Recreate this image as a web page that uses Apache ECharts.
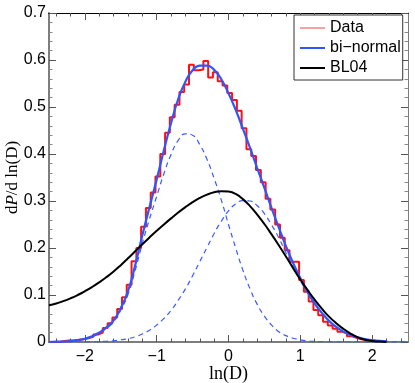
<!DOCTYPE html>
<html>
<head>
<meta charset="utf-8">
<script src="https://cdn.jsdelivr.net/npm/echarts@6/dist/echarts.min.js"></script>
<style>
  html, body { margin: 0; padding: 0; background: #fff; }
  #chart { width: 415px; height: 383px; }
</style>
</head>
<body>
<div id="chart"></div>
<script>
// x sample points for the smooth curves
var curveX = [-2.5, -2.4, -2.3, -2.2, -2.1, -2.0, -1.9, -1.8, -1.7, -1.6, -1.5, -1.4, -1.3, -1.2, -1.1,
    -1.0, -0.9, -0.8, -0.7, -0.6, -0.5, -0.4, -0.3, -0.2, -0.1, 0.0, 0.1, 0.2, 0.3, 0.4, 0.5,
    0.6, 0.7, 0.8, 0.9, 1.0, 1.1, 1.2, 1.3, 1.4, 1.5, 1.6, 1.7, 1.8, 1.9, 2.0, 2.1, 2.2, 2.3, 2.4, 2.5];

// bi-normal fit (solid blue)
var biNormal = [0.000, 0.001, 0.001, 0.002, 0.004, 0.007, 0.012, 0.020, 0.031, 0.046, 0.072, 0.108, 0.163, 0.227, 0.287,
    0.346, 0.408, 0.466, 0.517, 0.554, 0.578, 0.588, 0.588, 0.579, 0.559, 0.529, 0.494, 0.454, 0.413, 0.370, 0.328,
    0.285, 0.244, 0.204, 0.168, 0.136, 0.107, 0.082, 0.062, 0.045, 0.032, 0.022, 0.015, 0.010, 0.006, 0.004, 0.0025, 0.0015, null, null, null];

// the two gaussian components (dashed blue)
var comp1 = [0.000, 0.001, 0.001, 0.002, 0.004, 0.007, 0.011, 0.019, 0.029, 0.043, 0.068, 0.101, 0.152, 0.210, 0.262,
    0.310, 0.358, 0.399, 0.429, 0.443, 0.440, 0.420, 0.389, 0.348, 0.302, 0.250, 0.200, 0.153, 0.113, 0.080, 0.055,
    0.036, 0.022, 0.0135, 0.008, 0.0045, 0.0025, 0.0013, 0.0007, 0.0004, 0.0002, 0.0001, 0, 0, 0, 0, 0, 0, 0, 0, 0];
var comp2 = [0.000, 0.000, 0.000, 0.0001, 0.0002, 0.0003, 0.0005, 0.0009, 0.0016, 0.0027, 0.0045, 0.0072, 0.0112, 0.017, 0.025,
    0.036, 0.050, 0.067, 0.089, 0.113, 0.141, 0.171, 0.201, 0.231, 0.257, 0.279, 0.294, 0.301, 0.300, 0.290, 0.273,
    0.249, 0.222, 0.190, 0.160, 0.131, 0.104, 0.081, 0.061, 0.045, 0.032, 0.022, 0.015, 0.010, 0.006, 0.004, 0.0025, 0.0015, 0.001, 0.0005, 0.0003];

// BL04 model (black)
var bl04 = [0.078, 0.082, 0.087, 0.093, 0.100, 0.108, 0.117, 0.127, 0.138, 0.150, 0.1635, 0.178, 0.193, 0.208, 0.2225,
    0.2365, 0.250, 0.263, 0.2755, 0.287, 0.2975, 0.3065, 0.3135, 0.3185, 0.321, 0.320, 0.315, 0.304, 0.289, 0.271, 0.251,
    0.229, 0.206, 0.182, 0.157, 0.133, 0.111, 0.090, 0.071, 0.054, 0.040, 0.028, 0.018, 0.010, 0.005, 0.002, 0.001, 0.000, null, null, null];

// histogram: left bin edges and heights
var histEdge = [-2.35, -2.283, -2.217, -2.15, -2.083, -2.017, -1.95, -1.883, -1.817, -1.75, -1.683, -1.617, -1.55, -1.483, -1.417, -1.35,
    -1.283, -1.217, -1.15, -1.083, -1.017, -0.95, -0.883, -0.817, -0.75, -0.683, -0.617, -0.55, -0.483, -0.417, -0.35, -0.283,
    -0.217, -0.15, -0.083, -0.017, 0.05, 0.117, 0.183, 0.25, 0.317, 0.383, 0.45, 0.517, 0.583, 0.65, 0.717, 0.783,
    0.85, 0.917, 0.983, 1.05, 1.117, 1.183, 1.25, 1.317, 1.383, 1.45, 1.517, 1.583, 1.65, 1.717, 1.783, 1.85, 1.917];
var histVal = [0.002, 0.003, 0.003, 0.005, 0.006, 0.008, 0.011, 0.016, 0.020, 0.030, 0.040, 0.052, 0.070, 0.095, 0.122, 0.172,
    0.200, 0.245, 0.285, 0.318, 0.352, 0.400, 0.445, 0.478, 0.505, 0.532, 0.548, 0.590, 0.578, 0.580, 0.598, 0.563,
    0.574, 0.555, 0.546, 0.530, 0.515, 0.492, 0.455, 0.410, 0.396, 0.366, 0.340, 0.305, 0.282, 0.250, 0.222, 0.195,
    0.171, 0.171, 0.132, 0.107, 0.086, 0.068, 0.057, 0.043, 0.035, 0.028, 0.022, 0.018, 0.012, 0.009, 0.006, 0.004];

var xMajor = [-2, -1, 0, 1, 2];
var xMinor = [-2.4, -2.2, -1.8, -1.6, -1.4, -1.2, -0.8, -0.6, -0.4, -0.2, 0.2, 0.4, 0.6, 0.8, 1.2, 1.4, 1.6, 1.8, 2.2, 2.4];

function pairs(ys) {
    var out = [];
    for (var i = 0; i < curveX.length; i++) {
        if (ys[i] !== null) out.push([curveX[i], ys[i]]);
    }
    return out;
}

// step outline of the histogram
var histLine = [[-2.5, 0]];
for (var i = 0; i < histVal.length; i++) {
    histLine.push([histEdge[i], histVal[i]]);
}
histLine.push([histEdge[histEdge.length - 1], 0]);

var sans = 'Liberation Sans';
var serif = 'Liberation Serif';
var grey = '#7d7d7d';
var blue = '#2f55ff';

function fmtMinus(v) {
    return v < 0 ? '\u2212' + Math.abs(v) : String(v);
}

function xAx(pos, ticks, len, withLabel, lineColor) {
    var ax = {
        type: 'value', position: pos, min: -2.5, max: 2.5, gridIndex: 0,
        splitLine: { show: false },
        axisLine: { show: true, onZero: false, lineStyle: { color: lineColor, width: pos === 'bottom' ? 2 : 1 } },
        axisTick: { show: true, inside: true, length: len, customValues: ticks, lineStyle: { color: '#555' } },
        axisLabel: { show: false }
    };
    if (withLabel) {
        ax.axisLabel = {
            show: true, customValues: xMajor, formatter: fmtMinus, margin: 7,
            fontFamily: sans, fontSize: 16, color: '#000'
        };
        ax.name = 'ln(D)';
        ax.nameLocation = 'middle';
        ax.nameGap = 23;
        ax.nameMoveOverlap = false;
        ax.nameTextStyle = { fontFamily: serif, fontSize: 18, color: '#000' };
    }
    return ax;
}

function yAx(pos, withLabel, lineColor) {
    var ax = {
        type: 'value', position: pos, min: 0, max: 0.7, interval: 0.1,
        splitLine: { show: false },
        axisLine: { show: true, onZero: false, lineStyle: { color: lineColor, width: pos === 'left' ? 2 : 1 } },
        axisTick: { show: true, inside: true, length: 7, lineStyle: { color: '#555' } },
        minorTick: { show: true, splitNumber: 5, length: 3.5, lineStyle: { color: '#888' } },
        axisLabel: { show: false }
    };
    if (withLabel) {
        ax.axisLabel = { show: true, margin: 3, fontFamily: sans, fontSize: 16, color: '#000' };
        ax.name = 'd{i|P}/d ln(D)';
        ax.nameLocation = 'middle';
        ax.nameGap = 28;
        ax.nameMoveOverlap = false;
        ax.nameTextStyle = {
            fontFamily: serif, fontSize: 17, color: '#000',
            rich: { i: { fontFamily: serif, fontSize: 17, fontStyle: 'italic', color: '#000' } }
        };
    }
    return ax;
}

var chart = echarts.init(document.getElementById('chart'), null, { renderer: 'canvas' });
chart.setOption({
    animation: false,
    backgroundColor: '#fff',
    grid: { left: 49, right: 7, top: 13, bottom: 41, containLabel: false, outerBoundsMode: 'none' },
    legend: {
        orient: 'vertical', left: 294, top: 15,
        backgroundColor: '#fff', borderColor: '#333', borderWidth: 1, borderRadius: 0,
        padding: [5, 2, 4, 6], itemGap: 4, itemWidth: 25, itemHeight: 2, icon: 'rect',
        textStyle: { fontFamily: sans, fontSize: 16, color: '#000', lineHeight: 16 },
        data: [
            { name: 'Data', itemStyle: { color: '#f5a3a3' } },
            { name: 'bi\u2212normal', itemStyle: { color: blue } },
            { name: 'BL04', itemStyle: { color: '#000' } }
        ]
    },
    xAxis: [
        xAx('bottom', xMajor, 7, true, grey),
        xAx('bottom', xMinor, 3.5, false, grey),
        xAx('top', xMajor, 7, false, '#000'),
        xAx('top', xMinor, 3.5, false, '#000')
    ],
    yAxis: [
        yAx('left', true, grey),
        yAx('right', false, grey)
    ],
    series: [
        {
            name: 'Data', type: 'line', step: 'end', data: histLine,
            symbol: 'none', lineStyle: { color: '#ff1010', width: 2 }, itemStyle: { color: '#ff1010' }
        },
        {
            name: 'comp1', type: 'line', data: pairs(comp1), symbol: 'none', smooth: true,
            lineStyle: { color: '#3a5cff', width: 1.2, type: [5, 4] }
        },
        {
            name: 'comp2', type: 'line', data: pairs(comp2), symbol: 'none', smooth: true,
            lineStyle: { color: '#3a5cff', width: 1.2, type: [5, 4] }
        },
        {
            name: 'bi\u2212normal', type: 'line', data: pairs(biNormal), symbol: 'none', smooth: true,
            lineStyle: { color: blue, width: 2.2 }, itemStyle: { color: blue }
        },
        {
            name: 'BL04', type: 'line', data: pairs(bl04), symbol: 'none', smooth: true,
            lineStyle: { color: '#000', width: 2 }, itemStyle: { color: '#000' }
        }
    ]
});
</script>
</body>
</html>
